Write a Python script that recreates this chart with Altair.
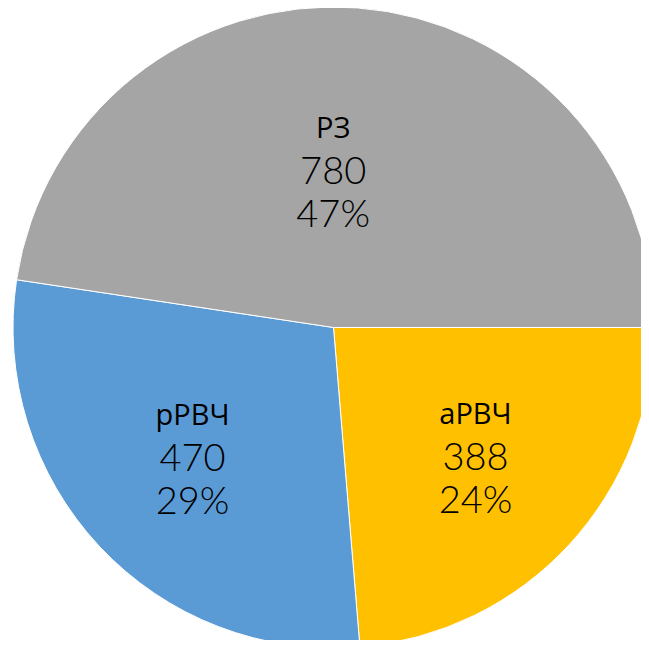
import altair as alt
import pandas as pd
import math

categories = ["аРВЧ", "рРВЧ", "РЗ"]
values = [388, 470, 780]
percents = ["24%", "29%", "47%"]
colors = ["#FFC000", "#5B9BD5", "#A5A5A5"]
order_idx = [0, 1, 2]

df = pd.DataFrame({
    "cat": categories,
    "val": values,
    "pct": percents,
    "idx": order_idx,
    "vtxt": [str(v) for v in values],
})

total = sum(values)
theta_scale = alt.Scale(domain=[0, total], range=[math.pi / 2, math.pi / 2 + 2 * math.pi], zero=True, nice=False)
CX, CY, R = 325.5, 319.5, 320.5

base = alt.Chart(df).transform_window(
    v1="sum(val)", sort=[alt.SortField("idx")], frame=[None, 0]
).transform_calculate(
    v0="datum.v1 - datum.val", mid="datum.v1 - datum.val / 2"
)

arcs = base.mark_arc(stroke="white", strokeWidth=1).encode(
    theta=alt.Theta("v0:Q", scale=theta_scale, stack=None),
    theta2="v1:Q",
    color=alt.Color("cat:N", scale=alt.Scale(domain=categories, range=colors), legend=None),
    x=alt.value(CX), y=alt.value(CY), radius=alt.value(R),
)

def text_layer(field, dy, dx, font, size, weight, filt, rad):
    return base.transform_filter(filt).mark_text(
        font=font, fontSize=size, fontWeight=weight, color="black", dy=dy, dx=dx,
        align="center", baseline="middle",
    ).encode(
        theta=alt.Theta("mid:Q", scale=theta_scale, stack=None),
        text=f"{field}:N", x=alt.value(CX), y=alt.value(CY), radius=alt.value(rad),
    )

layers = [arcs]
for filt, rad, dx in [("datum.cat != 'РЗ'", 193, 0), ("datum.cat == 'РЗ'", 156, -12)]:
    layers.append(text_layer("cat", -43, dx, "Open Sans", 29, 400, filt, rad))
    layers.append(text_layer("vtxt", 1, dx, "Lato", 38, 300, filt, rad))
    layers.append(text_layer("pct", 44, dx, "Lato", 38, 300, filt, rad))

chart = alt.layer(*layers).properties(
    width=633, height=632, autosize=alt.AutoSizeParams(type="none"), padding=0
).configure_view(stroke=None)

chart.save("out.html", embed_options={"renderer": "svg", "actions": False})
